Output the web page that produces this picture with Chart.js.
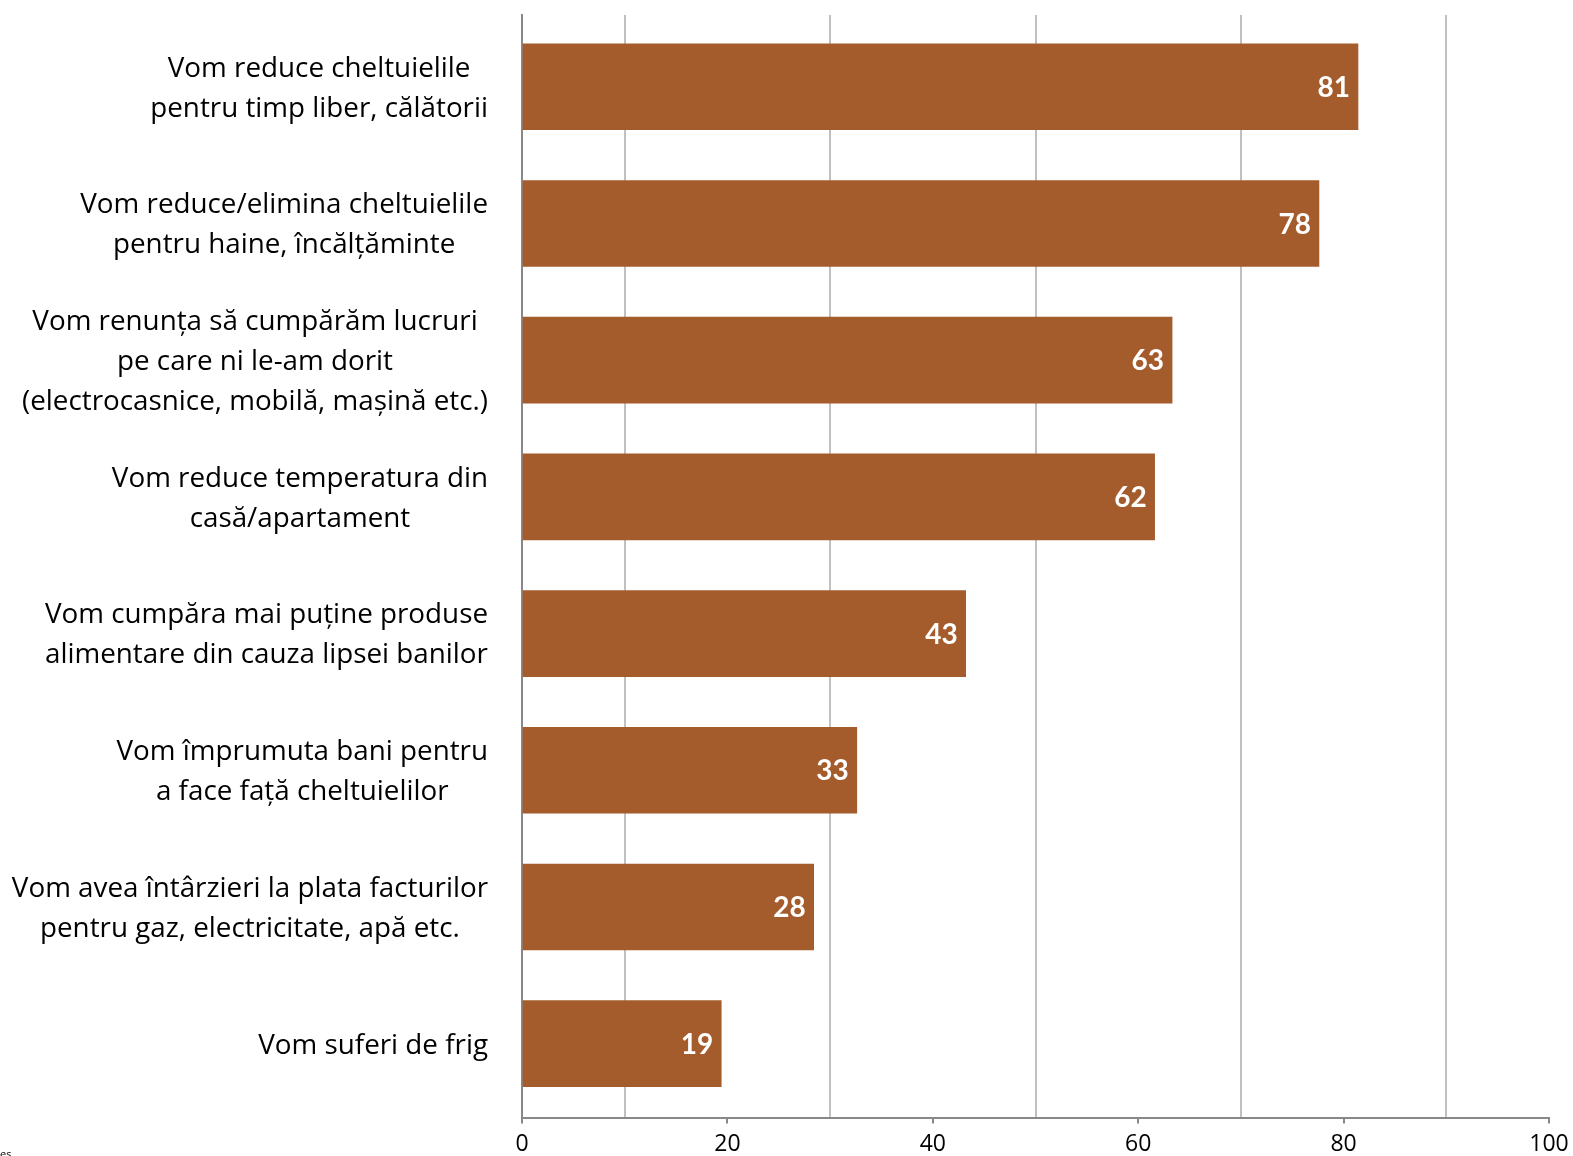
<!DOCTYPE html>
<html>
<head>
<meta charset="utf-8">
<script src="https://cdn.jsdelivr.net/npm/chart.js@4/dist/chart.umd.min.js"></script>
<style>
  html, body { margin: 0; padding: 0; background: #fff; }
  #wrap { position: relative; width: 1573px; height: 1156px; overflow: hidden; }
  #note { position: absolute; left: 0; bottom: -5px; font: 11px "Open Sans", sans-serif; color: #000; }
</style>
</head>
<body>
<div id="wrap">
  <canvas id="barChart"></canvas>
  <div id="note">es</div>
</div>
<script>
// categories (one array of lines per bar)
var categories = [
	['Vom reduce cheltuielile', 'pentru timp liber, călătorii'],
	['Vom reduce/elimina cheltuielile', 'pentru haine, încălțăminte'],
	['Vom renunța să cumpărăm lucruri', 'pe care ni le-am dorit', '(electrocasnice, mobilă, mașină etc.)'],
	['Vom reduce temperatura din', 'casă/apartament'],
	['Vom cumpăra mai puține produse', 'alimentare din cauza lipsei banilor'],
	['Vom împrumuta bani pentru', 'a face față cheltuielilor'],
	['Vom avea întârzieri la plata facturilor', 'pentru gaz, electricitate, apă etc.'],
	['Vom suferi de frig']
];
var values = [81.4, 77.6, 63.3, 61.6, 43.2, 32.6, 28.4, 19.4];
var tickValues = [0, 20, 40, 60, 80, 100];

var barColor = '#A55C2C';
var labelFont = '27.8px "Open Sans", sans-serif';

// multi-line category labels, each block centred on itself, blocks right aligned
var categoryLabels = {
	id: 'categoryLabels',
	afterDraw: function(chart) {
		var ctx = chart.ctx;
		var yScale = chart.scales.y;
		var right = chart.chartArea.left - 34;
		var lineHeight = 40;
		ctx.save();
		ctx.font = labelFont;
		ctx.fillStyle = '#000';
		ctx.textAlign = 'center';
		ctx.textBaseline = 'middle';
		categories.forEach(function(lines, i) {
			var w = 0;
			lines.forEach(function(l) { w = Math.max(w, ctx.measureText(l).width); });
			var cx = right - w / 2;
			var cy = yScale.getPixelForValue(i) + 2;
			var top = cy - (lines.length - 1) * lineHeight / 2;
			lines.forEach(function(l, j) {
				ctx.fillText(l, cx, top + j * lineHeight);
			});
		});
		ctx.restore();
	}
};

// value labels inside the bar ends
var valueLabels = {
	id: 'valueLabels',
	afterDatasetsDraw: function(chart) {
		var ctx = chart.ctx;
		var meta = chart.getDatasetMeta(0);
		ctx.save();
		ctx.font = 'bold 28px Lato, sans-serif';
		ctx.fillStyle = '#fff';
		ctx.textAlign = 'right';
		ctx.textBaseline = 'middle';
		meta.data.forEach(function(bar, i) {
			ctx.fillText(String(Math.round(values[i])), bar.x - 8, bar.y + 1);
		});
		ctx.restore();
	}
};

var config = {
	type: 'bar',
	data: {
		datasets: [{
			data: values.map(function(v, i) { return { x: v, y: i }; }),
			backgroundColor: barColor,
			borderWidth: 0,
			barThickness: 86
		}]
	},
	options: {
		indexAxis: 'y',
		responsive: true,
		maintainAspectRatio: false,
		animation: false,
		layout: {
			padding: { top: 15, right: 24, bottom: 0, left: 0 }
		},
		plugins: {
			legend: { display: false },
			tooltip: { enabled: false }
		},
		scales: {
			x: {
				type: 'linear',
				min: 0,
				max: 100,
				afterFit: function(scale) {
					scale.height = 38.5;
					scale.paddingLeft = 0;
					scale.paddingRight = 0;
				},
				ticks: {
					stepSize: 10,
					autoSkip: false,
					maxRotation: 0,
					padding: 7,
					color: '#000',
					font: { family: '"Open Sans", sans-serif', size: 23 },
					callback: function(v) { return tickValues.indexOf(v) >= 0 ? v : ''; }
				},
				grid: {
					lineWidth: 2,
					tickLength: 6,
					color: function(c) {
						return c.tick && tickValues.indexOf(c.tick.value) < 0 ? '#c0c0c0' : 'rgba(0,0,0,0)';
					},
					tickColor: function(c) {
						return c.tick && tickValues.indexOf(c.tick.value) >= 0 ? '#888888' : 'rgba(0,0,0,0)';
					}
				},
				border: { display: true, color: '#888888', width: 2 }
			},
			y: {
				type: 'linear',
				reverse: true,
				offset: false,
				min: -0.525,
				max: 7.54,
				afterFit: function(scale) { scale.width = 522; },
				ticks: { display: false, stepSize: 1 },
				grid: { display: false, drawTicks: false, offset: false },
				border: { display: true, color: '#888888', width: 2 }
			}
		}
	},
	plugins: [categoryLabels, valueLabels]
};

window.onload = function() {
	var ctx = document.getElementById('barChart').getContext('2d');
	window.myBar = new Chart(ctx, config);
};
</script>
</body>
</html>
